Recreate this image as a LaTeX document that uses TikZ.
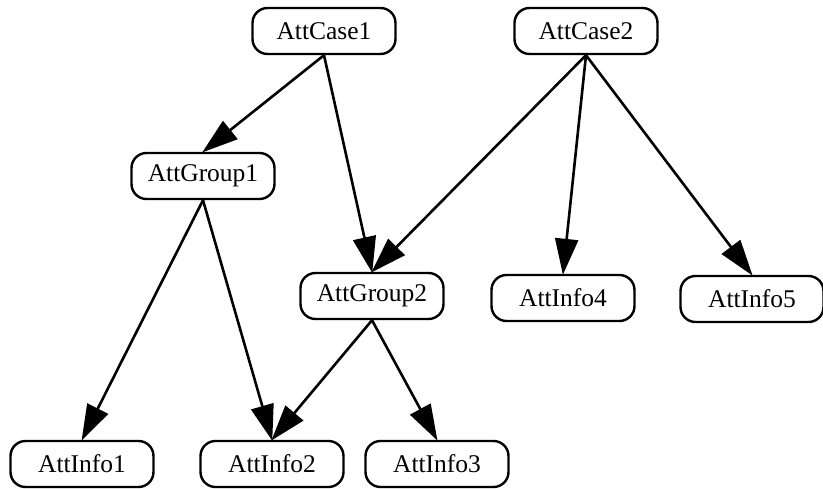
\documentclass[tikz,border=0pt]{standalone}
\usepackage{fontspec}
\setmainfont{Liberation Serif}
\usetikzlibrary{arrows.meta}
\begin{document}
\begin{tikzpicture}[x=1pt,y=-1pt,
  box/.style={draw=black, line width=2.4pt, rounded corners=15pt, fill=white,
    minimum width=143pt, minimum height=46pt, inner sep=0pt,
    font=\fontsize{25.5}{30}\selectfont},
  edge/.style={draw=black, line width=2.6pt,
    -{Triangle[length=36pt,width=23pt]}, shorten >=-1pt}]
\useasboundingbox (0,0) rectangle (823,489);
\node[box] (c1) at (324,31) {AttCase1};
\node[box] (c2) at (586,31) {AttCase2};
\node[box] (g1) at (203,176) {AttGroup1};
\node[box] (g2) at (372,296) {AttGroup2};
\node[box] (i4) at (563,298) {AttInfo4};
\node[box] (i5) at (752,299) {AttInfo5};
\node[box] (i1) at (82,464) {AttInfo1};
\node[box] (i2) at (272,464) {AttInfo2};
\node[box] (i3) at (437,464) {AttInfo3};
\draw[edge] (c1.south) -- (g1.north);
\draw[edge] (c1.south) -- (g2.north);
\draw[edge] (c2.south) -- (g2.north);
\draw[edge] (c2.south) -- (i4.north);
\draw[edge] (c2.south) -- (i5.north);
\draw[edge] (g1.south) -- (i1.north);
\draw[edge] (g1.south) -- (i2.north);
\draw[edge] (g2.south) -- (i2.north);
\draw[edge] (g2.south) -- (i3.north);
\end{tikzpicture}
\end{document}
